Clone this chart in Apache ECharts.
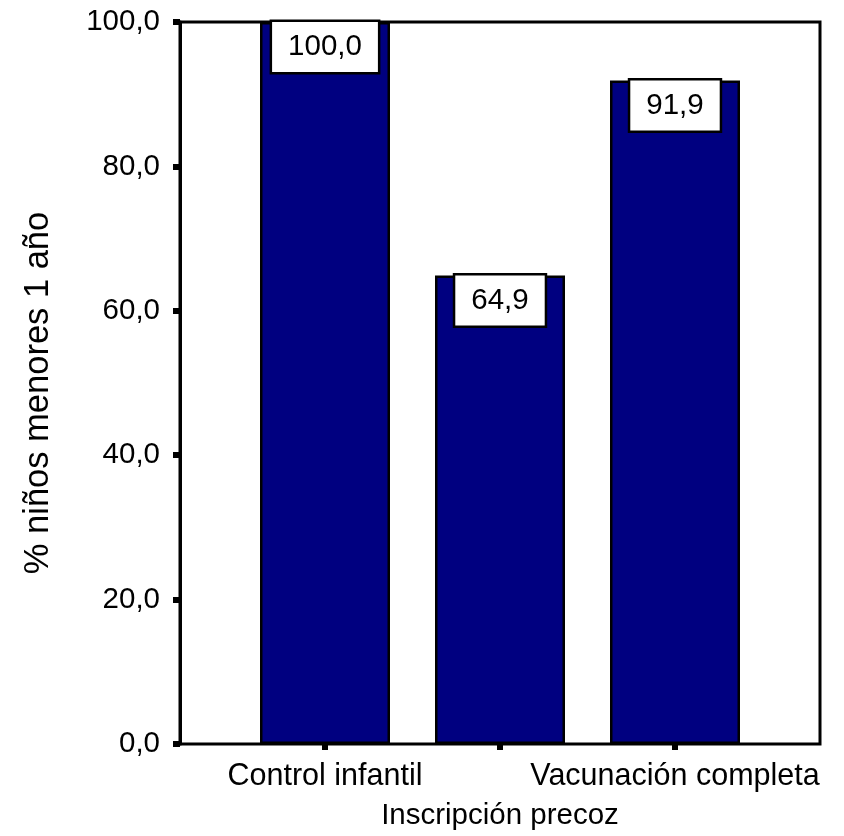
<!DOCTYPE html>
<html>
<head>
<meta charset="utf-8">
<script src="https://cdn.jsdelivr.net/npm/echarts@6/dist/echarts.min.js"></script>
<style>
  html, body { margin: 0; padding: 0; background: #fff; }
  #chart { width: 844px; height: 836px; }
</style>
</head>
<body>
<div id="chart"></div>
<script>
// Percentage of children under 1 year, by early-registration indicator
const categories = ['Control infantil', '', 'Vacunación completa'];
const percentages = [100.0, 64.9, 91.9];
const yMin = 0;
const yMax = 100;
const yStep = 20;

const FONT = "Arial, 'Liberation Sans', sans-serif";
const comma = v => Number(v).toFixed(1).replace('.', ',');

const chart = echarts.init(document.getElementById('chart'), null, { renderer: 'canvas' });

chart.setOption({
  backgroundColor: '#fff',
  animation: false,
  grid: [
    // outer frame carrying the value axis
    { left: 180, right: 24, top: 22, bottom: 92, show: true,
      borderColor: '#000', borderWidth: 3, backgroundColor: 'transparent' },
    // inner band holding the bars
    { left: 237.5, right: 81.5, top: 22, bottom: 92 }
  ],
  xAxis: [
    { gridIndex: 0, type: 'value', show: false, min: 0, max: 1 },
    {
      gridIndex: 1,
      type: 'category',
      data: categories,
      axisLine: { show: false },
      axisTick: { show: true, alignWithLabel: true, inside: false, length: 6,
                  lineStyle: { color: '#000', width: 6 } },
      axisLabel: { interval: 0, margin: 17, color: '#000', fontFamily: FONT, fontSize: 30.5 },
      name: 'Inscripción precoz',
      nameLocation: 'middle',
      nameGap: 57,
      nameTextStyle: { color: '#000', fontFamily: FONT, fontSize: 29.5 }
    }
  ],
  yAxis: [
    {
      gridIndex: 0,
      type: 'value',
      min: yMin,
      max: yMax,
      interval: yStep,
      splitLine: { show: false },
      axisLine: { show: true, lineStyle: { color: '#000', width: 3 } },
      axisTick: { show: true, inside: false, length: 7, lineStyle: { color: '#000', width: 6 } },
      axisLabel: { formatter: comma, margin: 20, color: '#000', fontFamily: FONT, fontSize: 29.5 },
      name: '% niños menores 1 año',
      nameLocation: 'middle',
      nameRotate: 90,
      nameGap: 124,
      nameTextStyle: { color: '#000', fontFamily: FONT, fontSize: 34.5, padding: [0, 20, 0, 0] }
    },
    { gridIndex: 1, type: 'value', min: yMin, max: yMax, show: false }
  ],
  series: [{
    type: 'bar',
    xAxisIndex: 1,
    yAxisIndex: 1,
    data: percentages,
    barWidth: 130,
    itemStyle: { color: '#000080', borderColor: '#000', borderWidth: 2.5 },
    label: {
      show: true,
      position: 'insideTop',
      distance: 0,
      formatter: p => comma(p.value),
      color: '#000',
      fontFamily: FONT,
      fontSize: 29.5,
      backgroundColor: '#fff',
      borderColor: '#000',
      borderWidth: 2.5,
      padding: [10, 16]
    }
  }]
});
</script>
</body>
</html>
